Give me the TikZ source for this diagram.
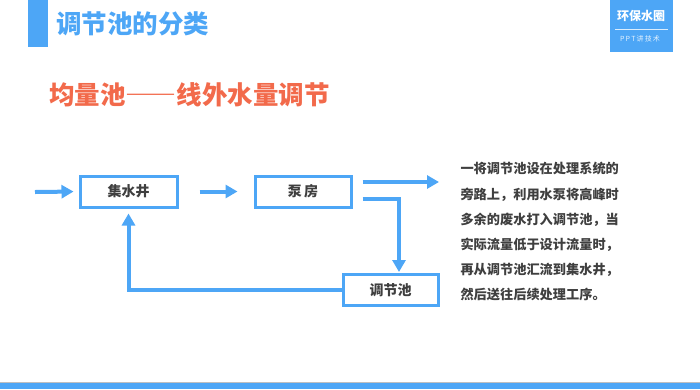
\documentclass[tikz,border=0pt]{standalone}
\usepackage{fontspec}
\setmainfont{Noto Sans CJK SC}
\newfontfamily\cjk{Noto Sans CJK SC}
\usetikzlibrary{arrows.meta,positioning}
\definecolor{lanse}{HTML}{4DA6F6}
\definecolor{juhong}{HTML}{F26A4B}
\definecolor{shenhui}{HTML}{3F3F3F}
\begin{document}
\begin{tikzpicture}[x=1pt,y=-1pt,
    kuang/.style={draw=lanse,line width=3pt,fill=white,minimum height=31pt,
      inner sep=0pt,text=shenhui,font=\cjk\bfseries\fontsize{14}{14}\selectfont},
    liu/.style={draw=lanse,line width=4pt,-{Triangle[length=12pt,width=13pt]}}]
    \useasboundingbox (0,0) rectangle (700,389);
    % page frame
    \fill[lanse] (28,0) rectangle (48,47);
    \node[anchor=west,inner sep=0pt,text=lanse,font=\cjk\bfseries\fontsize{25.5}{25.5}\selectfont] (biaoti) at (56,24) {调节池的分类};
    \fill[lanse] (610,0) rectangle (673,52);
    \node[text=white,inner sep=0pt,font=\cjk\bfseries\fontsize{12}{12}\selectfont] (pinpai) at (641,16) {环保水圈};
    \draw[white!80!lanse,line width=1pt] (615,29) -- (668,29);
    \node[text=white!85!lanse,inner sep=0pt,font=\cjk\fontsize{7}{7}\selectfont] (jishu) at (640,39) {P\,P\,T\,讲\,技\,术};
    \fill[black!25] (0,382) rectangle (700,383);
    \fill[lanse] (0,383) rectangle (700,389);
    \node[anchor=west,inner sep=0pt,text=juhong,font=\cjk\bfseries\fontsize{25.5}{25.5}\selectfont] (zibiaoti) at (49,95) {均量池{\addfontfeatures{RawFeature=+fwid}——}线外水量调节};
    % flow chart
    \node[kuang,minimum width=97pt] (jsj) at (128.5,191.5) {集水井};
    \node[kuang,minimum width=96pt] (bf) at (303,191.5) {泵\,房};
    \node[kuang,minimum width=95pt] (tjc) at (390.5,290) {调节池};
    \coordinate (ru) at (35,192);
    \coordinate (chu) at (439,182);
    \draw[liu,shorten >=5pt] (ru) -- (jsj.west);
    \draw[liu,shorten <=21pt,shorten >=16pt] (jsj.east) -- (bf.west);
    \draw[liu] ([xshift=10pt,yshift=9.5pt]bf.east) -- (chu);
    \draw[liu,shorten >=1pt] ([xshift=10pt,yshift=-7.5pt]bf.east) -| ([xshift=8.5pt]tjc.north);
    \draw[liu,shorten >=5pt] (tjc.west) -| (jsj.south);
    % explanation
    \node[anchor=north west,align=left,text=shenhui,
      font=\cjk\bfseries\fontsize{13.2}{25.2}\selectfont] (shuoming) at (457,159)
      {一将调节池设在处理系统的\\旁路上，利用水泵将高峰时\\多余的废水打入调节池，当\\实际流量低于设计流量时，\\再从调节池汇流到集水井，\\然后送往后续处理工序。};
\end{tikzpicture}
\end{document}
